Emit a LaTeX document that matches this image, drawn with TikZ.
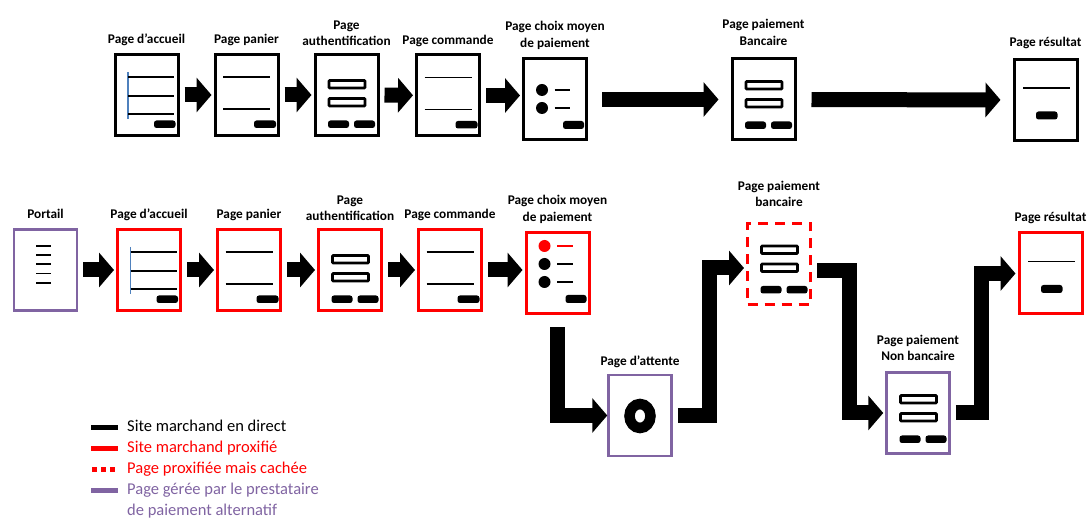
\documentclass[tikz,border=0pt]{standalone}
\usepackage{fontspec}
\setmainfont{Carlito}
\usetikzlibrary{arrows.meta,positioning}

\definecolor{altpurple}{RGB}{128,100,162}
\definecolor{navblue}{RGB}{79,129,189}

\begin{document}
\begin{tikzpicture}[
  x=1pt, y=-1pt,
  sheet/.style={draw, line width=3pt, minimum width=63pt, minimum height=81pt, inner sep=0pt},
  proxysheet/.style={sheet, draw=red},
  hiddensheet/.style={proxysheet, dash pattern=on 10pt off 7pt},
  altsheet/.style={sheet, draw=altpurple, line width=2.5pt},
  lbl/.style={font=\bfseries\fontsize{13.3}{16.5}\selectfont, align=center, inner sep=0pt},
  legtext/.style={font=\fontsize{16.5}{21}\selectfont, align=left, inner sep=0pt, anchor=base west},
  flow/.style={line width=15pt, -{Triangle[length=15pt,width=34pt]}, shorten <=5pt, shorten >=2pt},
  hl/.style={line width=1.1pt},
  btn/.style={fill=black, rounded corners=2.5pt},
  fld/.style={draw, line width=2.8pt, rounded corners=0.8pt},
  home/.pic={
    \draw[navblue, line width=1.2pt] (-18.5,-23) -- (-18.5,24);
    \foreach \yy in {-18,1,19} \draw[hl] (-18.5,\yy) -- (27.5,\yy);
    \fill[btn] (7.5,25.5) rectangle (29,33);
  },
  cart/.pic={
    \draw[hl] (-23.5,-18) -- (23.5,-18);
    \draw[hl] (-23.5,14) -- (23.5,14);
    \fill[btn] (7.5,25.5) rectangle (29.5,33);
  },
  form/.pic={
    \draw[fld] (-17.5,-14.5) rectangle (18.5,-7);
    \draw[fld] (-17.5,3.5) rectangle (18.5,11);
    \fill[btn] (-18.5,25.5) rectangle (2.5,33);
    \fill[btn] (7.5,25.5) rectangle (28.5,33);
  },
  choice/.pic={
    \foreach \yy in {-9.5,8.5}{
      \fill (-13,\yy) circle[radius=6pt];
      \draw[hl] (-0.5,\yy) -- (15,\yy);
    }
    \fill[btn] (8,21.5) rectangle (29,29.5);
  },
  choicered/.pic={
    \pic {choice};
    \fill[red] (-13,-27.5) circle[radius=6pt];
    \draw[hl, red] (-0.5,-27.5) -- (15,-27.5);
  },
  result/.pic={
    \draw[hl] (-22.5,-12) -- (24,-12);
    \fill[btn] (-9.5,11.5) rectangle (12,19.5);
  },
  portal/.pic={
    \foreach \yy in {-24,-15,-6,3.5,13} \draw[hl] (-9.5,\yy) -- (5.5,\yy);
  },
  wait/.pic={
    \draw[line width=10.5pt] (0,0.5) ellipse[x radius=10.5pt, y radius=12pt];
  }
]
\useasboundingbox (0,0) rectangle (1088,518);

% site marchand en direct
\node[sheet] (acc1) at (146.5,95) {};
\node[sheet] (pan1) at (246.5,95) {};
\node[sheet] (auth1) at (346.5,95) {};
\node[sheet] (cmd1) at (448,95.5) {};
\node[sheet] (choix1) at (555,99.5) {};
\node[sheet] (banc1) at (763.5,99.5) {};
\node[sheet] (res1) at (1045.5,100) {};

\pic at (acc1) {home};
\pic at (pan1) {cart};
\pic at (auth1) {form};
\pic at (cmd1) {cart};
\pic at (choix1) {choice};
\pic at ([yshift=3.5pt]banc1.center) {form};
\pic at (res1) {result};

\node[lbl, above=7pt of acc1] (acc1t) {Page d’accueil};
\node[lbl, above=7pt of pan1] (pan1t) {Page panier};
\node[lbl, above=7pt of auth1] (auth1t) {Page\\authentification};
\node[lbl, above=7pt of cmd1] (cmd1t) {Page commande};
\node[lbl, above=8pt of choix1] (choix1t) {Page choix moyen\\de paiement};
\node[lbl, above=12pt of banc1] (banc1t) {Page paiement\\Bancaire};
\node[lbl, above=9pt of res1] (res1t) {Page résultat};

\draw[flow] (acc1) -- (pan1);
\draw[flow] (pan1) -- (auth1);
\draw[flow] (auth1) -- (cmd1);
\draw[flow] (cmd1.east) -- (cmd1.east -| choix1.west);
\draw[flow, shorten <=14pt, shorten >=12pt] (choix1) -- (banc1);
\draw[flow, shorten <=15pt, shorten >=12pt] (banc1) -- (res1);

% site marchand proxifie
\node[altsheet] (port) at (45.5,270) {};
\node[proxysheet] (acc2) at (149,270) {};
\node[proxysheet] (pan2) at (249,270) {};
\node[proxysheet] (auth2) at (350,270) {};
\node[proxysheet] (cmd2) at (450,270) {};
\node[proxysheet] (choix2) at (557.5,273.5) {};
\node[hiddensheet] (banc2) at (779,264) {};
\node[proxysheet] (res2) at (1050.5,273.5) {};
\node[altsheet] (att) at (640,415.5) {};
\node[altsheet] (nonb) at (918,413) {};

\pic at (port) {portal};
\pic at (acc2) {home};
\pic at (pan2) {cart};
\pic at (auth2) {form};
\pic at (cmd2) {cart};
\pic at (choix2) {choicered};
\pic at ([yshift=3.5pt]banc2.center) {form};
\pic at (res2) {result};
\pic at (att) {wait};
\pic at ([yshift=3pt]nonb.center) {form};

\node[lbl, above=9pt of port] (portt) {Portail};
\node[lbl, above=7pt of acc2] (acc2t) {Page d’accueil};
\node[lbl, above=7pt of pan2] (pan2t) {Page panier};
\node[lbl, above=7pt of auth2] (auth2t) {Page\\authentification};
\node[lbl, above=7pt of cmd2] (cmd2t) {Page commande};
\node[lbl, above=8pt of choix2] (choix2t) {Page choix moyen\\de paiement};
\node[lbl, above=15pt of banc2] (banc2t) {Page paiement\\bancaire};
\node[lbl, above=8pt of res2] (res2t) {Page résultat};
\node[lbl, above=6pt of att] (attt) {Page d’attente};
\node[lbl, above=10pt of nonb] (nonbt) {Page paiement\\Non bancaire};

\draw[flow] (port) -- (acc2);
\draw[flow] (acc2) -- (pan2);
\draw[flow] (pan2) -- (auth2);
\draw[flow] (auth2) -- (cmd2);
\draw[flow] (cmd2.east) -- (cmd2.east -| choix2.west);
\draw[flow, shorten <=12pt, shorten >=0pt] (choix2.south) |- (att.west);
\draw[flow] (att.east) -| ([xshift=-37pt,yshift=-4pt]banc2.west) -- ([yshift=-4pt]banc2.west);
\draw[flow] ([yshift=-7pt]banc2.east) -| ([xshift=-36pt]nonb.west) -- (nonb.west);
\draw[flow] (nonb.east) -| ([xshift=-36pt]res2.west) -- (res2.west);

% legende
\node[legtext] (leg1) at (127,432) {Site marchand en direct};
\node[legtext, text=red] (leg2) at (127,453) {Site marchand proxifié};
\node[legtext, text=red] (leg3) at (127,474) {Page proxifiée mais cachée};
\node[legtext, text=altpurple] (leg4) at (127,516) {Page gérée par le prestataire\\de paiement alternatif};

\draw[line width=4.5pt] ([xshift=-36pt,yshift=4.5pt]leg1.base west) -- ([xshift=-9pt,yshift=4.5pt]leg1.base west);
\draw[line width=4.5pt, red] ([xshift=-36pt,yshift=4.5pt]leg2.base west) -- ([xshift=-9pt,yshift=4.5pt]leg2.base west);
\draw[line width=4.5pt, red, dash pattern=on 5pt off 4pt] ([xshift=-35pt,yshift=4.5pt]leg3.base west) -- ([xshift=-10pt,yshift=4.5pt]leg3.base west);
\draw[line width=4.5pt, altpurple] ([xshift=-36pt,yshift=25.5pt]leg4.base west) -- ([xshift=-9pt,yshift=25.5pt]leg4.base west);
\end{tikzpicture}
\end{document}
